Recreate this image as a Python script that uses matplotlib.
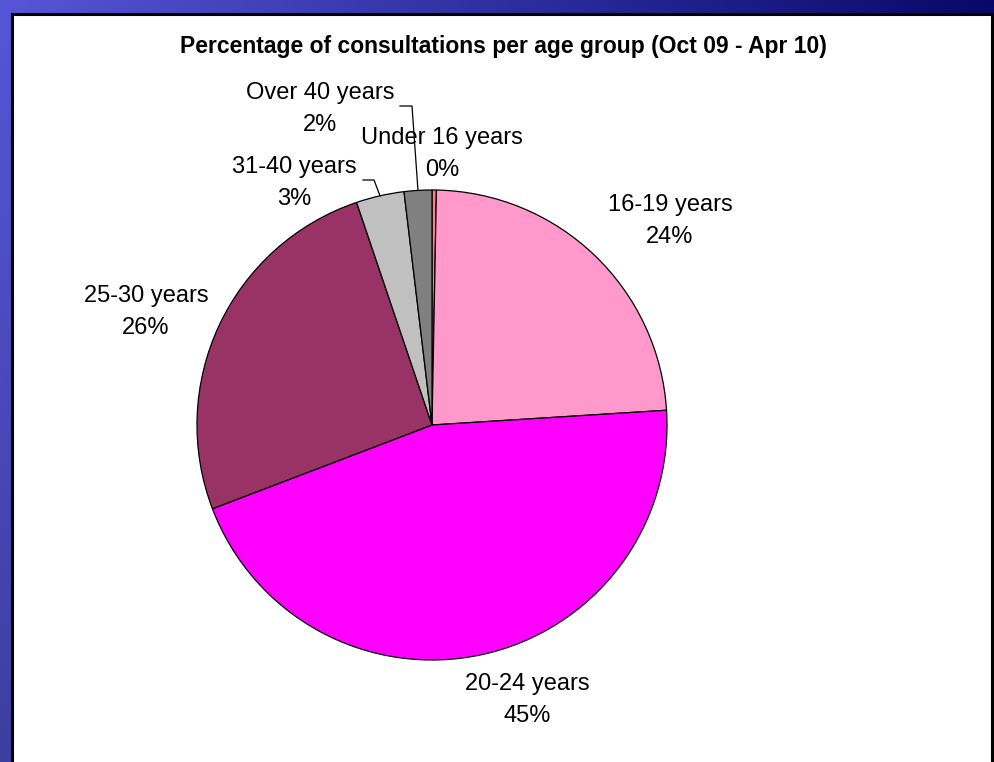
import numpy as np
import matplotlib
matplotlib.use("Agg")
import matplotlib.pyplot as plt
from matplotlib.patches import Rectangle

plt.rcParams['font.family'] = ['Liberation Sans', 'DejaVu Sans']

# Share of consultations by age group
age_groups = ["Under 16 years", "16-19 years", "20-24 years",
              "25-30 years", "31-40 years", "Over 40 years"]
shares = [0.3, 23.7, 45.2, 25.6, 3.3, 1.9]
colors = ["#FF7F7F", "#FF99CC", "#FF00FF", "#993366", "#C0C0C0", "#808080"]
title = "Percentage of consultations per age group (Oct 09 - Apr 10)"

W, H = 994, 762
fig = plt.figure(figsize=(W / 100, H / 100), dpi=100)

# Slide-style gradient background
bg = fig.add_axes([0, 0, 1, 1], zorder=-10)
ny, nx = 200, 300
u = np.linspace(0, 1, nx)[None, :, None]
v = np.linspace(0, 1, ny)[:, None, None]
tl = np.array([86, 86, 216]) / 255
tr = np.array([8, 8, 105]) / 255
bl = np.array([62, 62, 160]) / 255
br = np.array([8, 8, 90]) / 255
img = (1 - u) * (1 - v) * tl + u * (1 - v) * tr + (1 - u) * v * bl + u * v * br
bg.imshow(img, aspect='auto', extent=[0, 1, 0, 1], origin='upper')
bg.set_xlim(0, 1)
bg.set_ylim(0, 1)
bg.axis('off')

# White chart panel with dark outline
fig.patches.append(Rectangle((12 / W, -0.05), (992 - 12) / W, 1.05 - 14 / H,
                             transform=fig.transFigure, facecolor='white',
                             edgecolor='black', linewidth=2.2, zorder=-5))

fig.text(503 / W, 1 - 47 / H, title, ha='center', va='center',
         fontsize=16.5, fontweight='bold')

# Pie axes: one data unit equals R pixels
cx, cy, R = 432, 425, 235
half = 300
ax = fig.add_axes([(cx - half) / W, (H - cy - half) / H, 2 * half / W, 2 * half / H])

wedges, _ = ax.pie(shares, colors=colors, startangle=90, counterclock=False,
                   radius=1.0, wedgeprops=dict(edgecolor='black', linewidth=0.9))
ax.set_xlim(-half / R, half / R)
ax.set_ylim(-half / R, half / R)
ax.axis('off')


def d(px, py):
    return (px - cx) / R, (cy - py) / R


label_pos = [(442, 154), (670, 221), (527, 700), (146, 312), (294, 183), (320, 109)]
for name, val, (px, py) in zip(age_groups, shares, label_pos):
    x, y = d(px, py)
    ax.text(x, y, f"{name}\n{round(val):.0f}%", ha='center', va='center',
            fontsize=17, linespacing=1.55)

# Leader lines for the two thin slices
leaders = {4: (363, 180, 374), 5: (400, 106, 412)}
for i, (x0, y0, xk) in leaders.items():
    w = wedges[i]
    mid = np.deg2rad((w.theta1 + w.theta2) / 2)
    ex, ey = np.cos(mid), np.sin(mid)
    ax0, ay0 = d(x0, y0)
    kx, ky = d(xk, y0)
    ax.plot([ax0, kx, ex], [ay0, ky, ey], color='black', linewidth=0.9,
            clip_on=False)

fig.savefig("out.png", dpi=100)
